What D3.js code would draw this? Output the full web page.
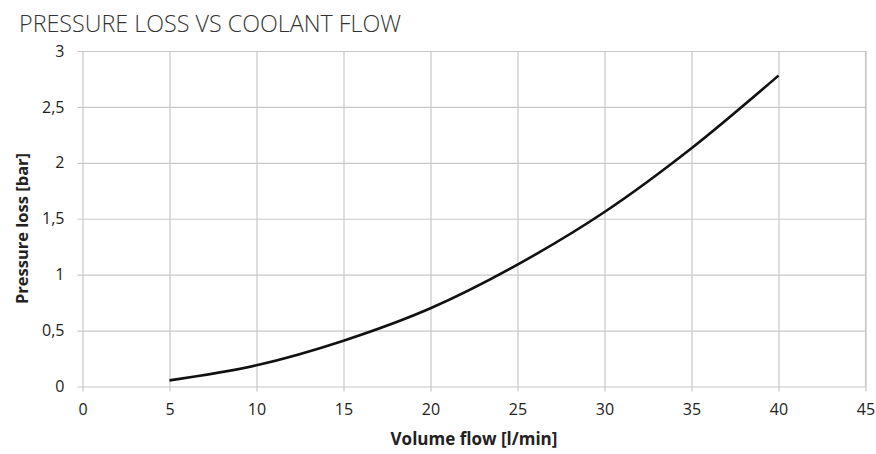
<!DOCTYPE html>
<html>
<head>
<meta charset="utf-8">
<script src="https://cdn.jsdelivr.net/npm/d3@7"></script>
<style>
  body { margin: 0; background: #fff; }
  svg text { font-family: "Open Sans", "Noto Sans", sans-serif; fill: #222; }
</style>
</head>
<body>
<div id="chart"></div>
<script>
// données
const flow = [5, 10, 15, 20, 25, 30, 35, 40]
const pressureLoss = [0.055, 0.19, 0.41, 0.70, 1.09, 1.56, 2.13, 2.78]
const xTicks = [0, 5, 10, 15, 20, 25, 30, 35, 40, 45]
const yTicks = [0, 0.5, 1, 1.5, 2, 2.5, 3]

const W = 876, H = 454
const margin = { top: 51, right: 10.5, bottom: 67.5, left: 82.5 }
const width = W - margin.left - margin.right
const height = H - margin.top - margin.bottom

const svg = d3.select("#chart")
    .append("svg")
    .attr("width", W)
    .attr("height", H)

// titre
svg.append("text")
    .attr("x", 19)
    .attr("y", 32)
    .style("font-size", "23.3px")
    .style("font-weight", 300)
    .style("fill", "#333")
    .text("PRESSURE LOSS VS COOLANT FLOW")

const g = svg.append("g")
    .attr("transform", "translate(" + margin.left + "," + margin.top + ")")

let x = d3.scaleLinear().domain([0, 45]).range([0, width])
let y = d3.scaleLinear().domain([0, 3]).range([height, 0])

const fmt = d => String(d).replace(".", ",")

// axe x + grille verticale
g.append("g")
    .attr("transform", "translate(0," + height + ")")
    .call(d3.axisBottom(x).tickValues(xTicks).tickSize(-height - 5).tickPadding(17).tickFormat(d3.format("d")))
    .call(a => a.selectAll(".tick line").attr("transform", "translate(0,5)"))

// axe y + grille horizontale
g.append("g")
    .call(d3.axisLeft(y).tickValues(yTicks).tickSize(-width - 5).tickPadding(18).tickFormat(fmt))
    .call(a => a.selectAll(".tick line").attr("transform", "translate(-5,0)"))

g.selectAll(".domain").remove()
g.selectAll(".tick line").attr("stroke", "#c8c8c8").attr("stroke-width", 1.2)
g.selectAll(".tick text").style("font-size", "16px").style("fill", "#222")

// cadre droite
g.append("line").attr("x1", width).attr("x2", width).attr("y1", 0).attr("y2", height)
    .attr("stroke", "#c8c8c8").attr("stroke-width", 1.2)

// courbe
const line = d3.line()
    .x((d, i) => x(flow[i]))
    .y(d => y(d))
    .curve(d3.curveMonotoneX)

g.append("path")
    .datum(pressureLoss)
    .attr("d", line)
    .attr("fill", "none")
    .attr("stroke", "#111")
    .attr("stroke-width", 2.6)

// titres des axes
svg.append("text")
    .attr("text-anchor", "middle")
    .attr("x", 474)
    .attr("y", 445)
    .style("font-size", "17px")
    .style("font-weight", "bold")
    .text("Volume flow [l/min]")

svg.append("text")
    .attr("text-anchor", "middle")
    .attr("transform", "translate(27.5,228.5) rotate(-90)")
    .style("font-size", "16.5px")
    .style("font-weight", "bold")
    .text("Pressure loss [bar]")
</script>
</body>
</html>
